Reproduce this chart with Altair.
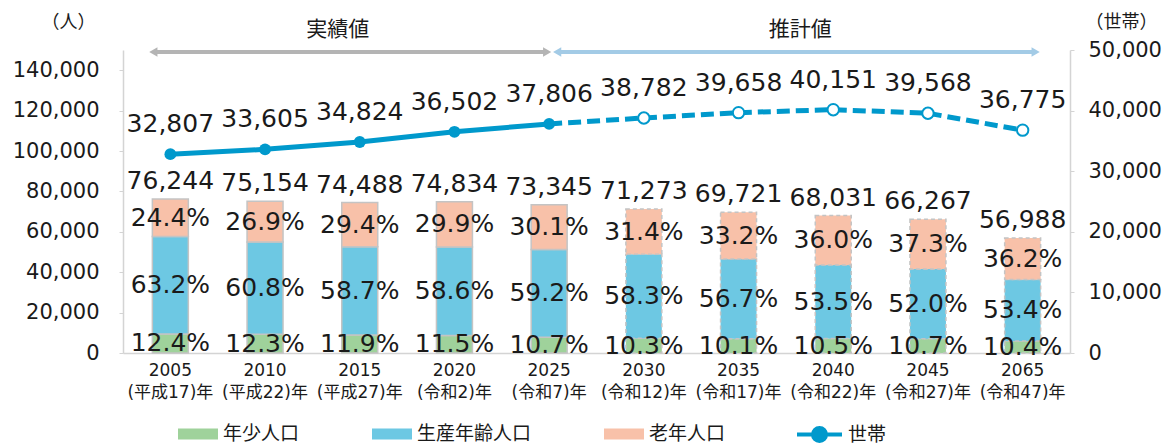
import altair as alt
import pandas as pd

# ---------------- data ----------------
years = ["2005", "2010", "2015", "2020", "2025", "2030", "2035", "2040", "2045", "2065"]
eras = ["(平成17)年", "(平成22)年", "(平成27)年", "(令和2)年", "(令和7)年",
        "(令和12)年", "(令和17)年", "(令和22)年", "(令和27)年", "(令和47)年"]
totals = [76244, 75154, 74488, 74834, 73345, 71273, 69721, 68031, 66267, 56988]
pct_young = [12.4, 12.3, 11.9, 11.5, 10.7, 10.3, 10.1, 10.5, 10.7, 10.4]
pct_work = [63.2, 60.8, 58.7, 58.6, 59.2, 58.3, 56.7, 53.5, 52.0, 53.4]
pct_old = [24.4, 26.9, 29.4, 29.9, 30.1, 31.4, 33.2, 36.0, 37.3, 36.2]
households = [32807, 33605, 34824, 36502, 37806, 38782, 39658, 40151, 39568, 36775]
phase = ["実績"] * 5 + ["推計"] * 5
categories = ["年少人口", "生産年齢人口", "老年人口"]
series_hh = "世帯"

xlab = [f"{y}\n{e}" for y, e in zip(years, eras)]

# ---------------- tables ----------------
rows = []
for i, x in enumerate(xlab):
    base = 0.0
    for cat, p in zip(categories, [pct_young[i], pct_work[i], pct_old[i]]):
        v = totals[i] * p / 100.0
        rows.append({"x": x, "cat": cat, "y0": base, "y1": base + v,
                     "mid": base + v / 2, "pct": f"{p:.1f}%", "phase": phase[i]})
        base += v
bars_df = pd.DataFrame(rows)
tot_df = pd.DataFrame({"x": xlab, "total": totals})
hh_df = pd.DataFrame({"x": xlab, "hh": households, "phase": phase, "s": series_hh})
hh_actual = hh_df.iloc[:5]
hh_proj = hh_df.iloc[4:]
hh_proj_pts = hh_df.iloc[5:]
dummy = pd.DataFrame({"a": [0]})

# ---------------- styles ----------------
FONT = 'DejaVu Sans, "Noto Sans CJK JP"'
TXT = "#1a1a1a"
AX = "#d4d4d4"
LINE = "#0099cc"
colors = ["#9fd29b", "#6dc8e3", "#f8c1a9"]
W, H = 947, 303

xenc = alt.X("x:N", sort="ascending",
             scale=alt.Scale(paddingInner=0.62, paddingOuter=0.31),
             axis=alt.Axis(title=None, labelAngle=0, labelExpr="split(datum.label, '\\n')",
                           labelFontSize=17, labelLineHeight=22, labelPadding=9,
                           labelOverlap=False, labelColor=TXT, domainColor=AX,
                           domainWidth=1.5, ticks=False))

scaleL = alt.Scale(domain=[0, 150000], nice=False)
axisL = alt.Axis(title="（人）", titleAngle=0, titleX=-55, titleY=-28, titleAlign="center",
                 titleBaseline="middle", titleFontSize=18, titleFontWeight="normal",
                 titleColor=TXT, values=list(range(0, 140001, 20000)), format=",.0f",
                 labelFontSize=21, labelColor=TXT, labelPadding=20, tickSize=4,
                 tickColor=AX, domainColor=AX, domainWidth=1.5, grid=False)
scaleR = alt.Scale(domain=[0, 50000], nice=False)
axisR = alt.Axis(title="（世帯）", orient="right", titleAngle=0, titleX=51, titleY=-28,
                 titleAlign="center", titleBaseline="middle", titleFontSize=18,
                 titleFontWeight="normal", titleColor=TXT,
                 values=list(range(0, 50001, 10000)), format=",.0f", labelFontSize=21,
                 labelColor=TXT, labelPadding=14, tickSize=4, tickColor=AX,
                 domainColor=AX, domainWidth=1.5, grid=False)

rect_path = "M-1,-0.275H1V0.275H-1Z"
line_path = ("M-1,0H1M0.29,0A0.29,0.29 0 1,1 -0.29,0A0.29,0.29 0 1,1 0.29,0Z")

# ---------------- left (population) ----------------
bars = alt.Chart(bars_df).mark_bar(stroke="#c4c4c4", strokeWidth=1.5).encode(
    x=xenc,
    y=alt.Y("y1:Q", scale=scaleL, axis=axisL),
    y2="y0:Q",
    color=alt.Color("cat:N", scale=alt.Scale(domain=categories, range=colors),
                    legend=alt.Legend(title=None, orient="none", legendX=55, legendY=364,
                                      direction="horizontal", symbolType=rect_path,
                                      symbolSize=1600, symbolStrokeWidth=0,
                                      labelFontSize=19, labelColor=TXT, labelOffset=5,
                                      columnPadding=72, padding=0)),
    strokeDash=alt.StrokeDash("phase:N", scale=alt.Scale(domain=["実績", "推計"],
                                                        range=[[1, 0], [4, 3]]), legend=None),
)

pct_text = alt.Chart(bars_df).mark_text(fontSize=25, baseline="middle", color=TXT).encode(
    x=xenc, y=alt.Y("mid:Q", scale=scaleL, axis=axisL), text="pct:N")

tot_text = alt.Chart(tot_df).mark_text(fontSize=25, baseline="alphabetic", dy=-10,
                                        color=TXT).encode(
    x=xenc, y=alt.Y("total:Q", scale=scaleL, axis=axisL),
    text=alt.Text("total:Q", format=","))

# annotations above the plot
def xd(i):
    return alt.X(datum=xlab[i], type="nominal")

gray = "#b4b4b4"
lblue = "#a3cbe6"
arrow_g = alt.Chart(dummy).mark_rule(color=gray, strokeWidth=4, xOffset=-17, x2Offset=-2).encode(
    x=xd(0), x2=alt.X2(datum=xlab[4]), y=alt.value(2))
arrow_b = alt.Chart(dummy).mark_rule(color=lblue, strokeWidth=4, xOffset=8, x2Offset=13).encode(
    x=xd(4), x2=alt.X2(datum=xlab[9]), y=alt.value(2))
head_gl = alt.Chart(dummy).mark_point(shape="triangle-left", filled=True, size=90, opacity=1,
                                      color=gray, xOffset=-17).encode(x=xd(0), y=alt.value(2))
head_gr = alt.Chart(dummy).mark_point(shape="triangle-right", filled=True, size=90, opacity=1,
                                      color=gray, xOffset=-2).encode(x=xd(4), y=alt.value(2))
head_bl = alt.Chart(dummy).mark_point(shape="triangle-left", filled=True, size=90, opacity=1,
                                      color=lblue, xOffset=8).encode(x=xd(4), y=alt.value(2))
head_br = alt.Chart(dummy).mark_point(shape="triangle-right", filled=True, size=90, opacity=1,
                                      color=lblue, xOffset=13).encode(x=xd(9), y=alt.value(2))
lab_a = alt.Chart(dummy).mark_text(text="実績値", fontSize=21, color=TXT, baseline="middle",
                                   dx=-22).encode(x=xd(2), y=alt.value(-20))
lab_p = alt.Chart(dummy).mark_text(text="推計値", fontSize=21, color=TXT, baseline="middle",
                                   dx=-33).encode(x=xd(7), y=alt.value(-20))

left = alt.layer(bars, pct_text, tot_text, arrow_g, arrow_b, head_gl, head_gr,
                 head_bl, head_br, lab_a, lab_p)

# ---------------- right (households) ----------------
yR = alt.Y("hh:Q", scale=scaleR, axis=axisR)
line_a = alt.Chart(hh_actual).mark_line(color=LINE, strokeWidth=5).encode(x=xenc, y=yR)
line_p = alt.Chart(hh_proj).mark_line(color=LINE, strokeWidth=5,
                                      strokeDash=[13, 6]).encode(x=xenc, y=yR)
pts_a = alt.Chart(hh_actual).mark_point(filled=True, size=140, opacity=1).encode(
    x=xenc, y=yR,
    color=alt.Color("s:N",
                    scale=alt.Scale(domain=[series_hh], range=[LINE]),
                    legend=alt.Legend(title=None, orient="none", legendX=672, legendY=360,
                                      symbolType=line_path, symbolSize=2025,
                                      symbolStrokeWidth=4, symbolStrokeColor=LINE,
                                      symbolFillColor=LINE, labelFontSize=19,
                                      labelColor=TXT, labelOffset=4, padding=0)))
pts_p = alt.Chart(hh_proj_pts).mark_point(filled=True, fill="white", stroke=LINE,
                                          strokeWidth=2, size=130, opacity=1).encode(x=xenc, y=yR)
hh_text = alt.Chart(hh_df).mark_text(fontSize=25, baseline="alphabetic", dy=-22,
                                     color=TXT).encode(
    x=xenc, y=yR, text=alt.Text("hh:Q", format=","))

right = alt.layer(line_a, line_p, pts_a, pts_p, hh_text)

chart = alt.layer(left, right).resolve_scale(
    y="independent", color="independent", strokeDash="independent"
).properties(
    width=W, height=H,
    padding={"left": 123, "top": 50, "right": 104, "bottom": 93},
    autosize=alt.AutoSizeParams(type="none"),
).configure(font=FONT).configure_view(strokeWidth=0)

chart.save("out.html", embed_options={"renderer": "svg", "actions": False})
